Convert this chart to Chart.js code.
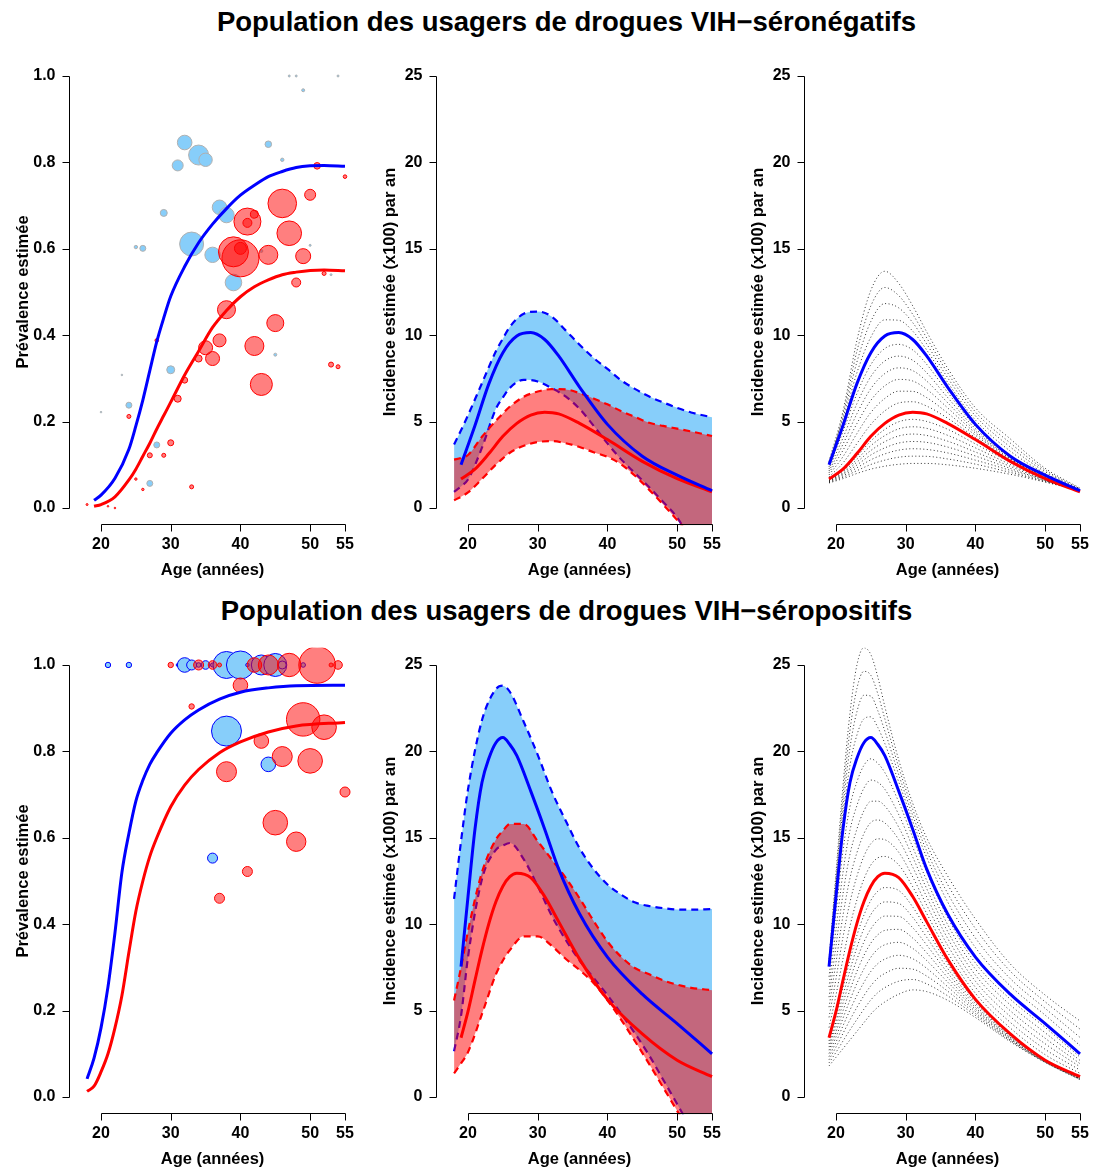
<!DOCTYPE html>
<html lang="fr">
<head>
<meta charset="utf-8">
<title>Population des usagers de drogues</title>
<script src="https://cdn.jsdelivr.net/npm/chart.js@4.4.1/dist/chart.umd.min.js"></script>
<style>
  html, body { margin: 0; padding: 0; background: #fff; }
  body { position: relative; width: 1094px; height: 1171px; overflow: hidden;
         font-family: "Liberation Sans", Arial, Helvetica, sans-serif; }
  .title { position: absolute; left: 0; width: 1133px; text-align: center; color: #000;
           font-weight: bold; font-size: 27.5px; line-height: 30px; white-space: nowrap; }
  .panel { position: absolute; width: 360px; height: 545px; }
</style>
</head>
<body>
<div class="title" style="top:7px">Population des usagers de drogues VIH−séronégatifs</div>
<div class="title" style="top:596px">Population des usagers de drogues VIH−séropositifs</div>

<canvas class="panel" id="negPrev" width="360" height="545" style="left:0;top:40px"></canvas>
<canvas class="panel" id="negInc" width="360" height="545" style="left:367px;top:40px"></canvas>
<canvas class="panel" id="negFan" width="360" height="545" style="left:735px;top:40px"></canvas>
<canvas class="panel" id="posPrev" width="360" height="545" style="left:0;top:629px"></canvas>
<canvas class="panel" id="posInc" width="360" height="545" style="left:367px;top:629px"></canvas>
<canvas class="panel" id="posFan" width="360" height="545" style="left:735px;top:629px"></canvas>

<script>
// ---- axes ----
const X_TICKS = [20, 30, 40, 50, 55];
const PREV_TICKS = [0, 0.2, 0.4, 0.6, 0.8, 1.0];
const INC_TICKS = [0, 5, 10, 15, 20, 25];

// ---- prevalence curves ----
const PREV_NEG_AGES = [19, 20, 22, 24, 25, 26, 27, 28, 29, 30, 32, 34, 36, 38, 40, 42, 44, 46, 48, 50, 52, 55];
const PREV_NEG_BLUE = [.018, .03, .069, .136, .19, .25, .318, .385, .44, .49, .559, .614, .657, .693, .724, .747, .767, .779, .788, .792, .793, .791];
const PREV_NEG_RED  = [.004, .008, .026, .065, .09, .12, .15, .183, .214, .245, .308, .363, .418, .457, .489, .512, .528, .54, .546, .55, .551, .549];

const PREV_POS_AGES = [18, 19, 20, 21, 22, 23, 24, 25, 26, 27, 28, 30, 32, 34, 37, 40, 44, 48, 55];
const PREV_POS_BLUE = [.042, .09, .16, .255, .38, .52, .61, .685, .733, .77, .797, .842, .873, .896, .921, .937, .947, .952, .953];
const PREV_POS_RED  = [.013, .025, .058, .1, .16, .235, .335, .43, .5, .557, .6, .672, .722, .758, .797, .822, .845, .859, .867];

// ---- observed prevalence bubbles (age, prevalence, bubble radius) ----
const NEG_BLUE_AGE  = [32, 34, 35, 31, 44, 46, 49, 47, 48, 54, 29, 37, 38, 33, 36, 39, 25, 26, 30, 28, 24, 27, 23, 20, 45, 50, 53, 43];
const NEG_BLUE_PREV = [.846, .817, .806, .793, .842, .806, .967, 1, 1, 1, .683, .696, .678, .611, .586, .522, .604, .601, .32, .146, .238, .057, .308, .222, .355, .608, .54, .595];
const NEG_BLUE_SIZE = [7.3, 10, 6.7, 5.5, 3.3, 1.7, 1.5, 1, 1, 1, 3.5, 7.3, 7.7, 12, 7.7, 8.3, 1.7, 3, 4, 3, 3, 3, .8, .8, 1.5, 1, 1, 1.5];

const NEG_RED_AGE  = [51, 55, 50, 46, 41, 41, 42, 47, 39, 40, 40, 44, 49, 48, 52, 38, 45, 37, 35, 34, 36, 42, 43, 32, 31, 30, 27, 29, 33, 28, 24, 25, 26, 18, 21, 22, 53, 54];
const NEG_RED_PREV = [.792, .767, .725, .705, .663, .66, .68, .636, .593, .578, .601, .586, .583, .522, .543, .459, .428, .388, .371, .346, .346, .375, .286, .296, .253, .151, .122, .122, .049, .388, .212, .067, .043, .008, .004, 0, .332, .327];
const NEG_RED_SIZE = [3.3, 1.8, 5.5, 14.3, 13.5, 4.5, 4, 12.3, 15, 18.5, 6, 9.5, 7.5, 4.5, 2, 9, 8.5, 6.5, 7, 3.5, 7, 9.5, 11, 3, 3.5, 3, 2.5, 2, 2, 1.8, 2, 1.2, 1.2, 1, .8, .8, 2.5, 2];

const POS_BLUE_AGE  = [21, 24, 31, 32, 33, 34, 35, 36, 38, 40, 41, 43, 45, 46, 49, 38, 44, 36];
const POS_BLUE_PREV = [1, 1, 1, 1, 1, 1, 1, 1, 1, 1, 1, 1, 1, 1, 1, .847, .77, .553];
const POS_BLUE_SIZE = [2.7, 2.7, 1.5, 7.3, 5, 2.3, 4.3, 2, 13.5, 14, 1.7, 10, 11.5, 4, 2.3, 15, 7.3, 5];

const POS_RED_AGE  = [30, 34, 36, 37, 42, 44, 47, 51, 53, 54, 40, 33, 49, 52, 43, 46, 50, 38, 55, 45, 48, 41, 37];
const POS_RED_PREV = [1, 1, 1, 1, 1, 1, 1, 1, 1, 1, .953, .904, .874, .856, .824, .788, .778, .753, .706, .635, .591, .522, .46];
const POS_RED_SIZE = [2.7, 5, 4.3, 2, 7.3, 10, 11.7, 18.3, 2, 4.3, 7.3, 2.7, 16.7, 12.3, 7.3, 10, 12.3, 10, 5, 12.3, 9.7, 5, 5];

// ---- incidence (x100 per year) ----
const INC_NEG_AGES = [19, 21, 23, 25, 27, 29, 31, 33, 36, 40, 45, 50, 55];
const INC_NEG_BLUE = [2.51, 4.78, 7.2, 8.99, 9.95, 10.15, 9.75, 8.8, 7.0, 4.84, 3.0, 1.9, 1.0];
const INC_NEG_RED  = [1.68, 2.25, 3.15, 4.15, 4.9, 5.38, 5.54, 5.45, 4.9, 3.96, 2.7, 1.7, 0.94];

const INC_POS_AGES = [19, 20, 21, 22, 23, 24, 25, 26, 27, 29, 31, 33, 36, 40, 45, 50, 55];
const INC_POS_BLUE = [7.55, 11.6, 15.5, 18.2, 19.6, 20.5, 20.8, 20.4, 19.75, 17.7, 15.5, 13.2, 10.6, 8.1, 5.95, 4.25, 2.5];
const INC_POS_RED  = [3.43, 4.95, 6.75, 8.5, 10.05, 11.3, 12.2, 12.75, 12.95, 12.7, 11.6, 10.15, 7.98, 5.65, 3.65, 2.13, 1.18];

// confidence bands
const BAND_AGES = [18, 19, 20, 22, 24, 25, 26, 28, 30, 32, 34, 36, 38, 40, 42, 44, 46, 48, 50, 52, 55];
const NEG_BLUE_UP = [3.68, 4.5, 5.37, 7.22, 9.07, 9.8, 10.48, 11.24, 11.37, 11.08, 10.28, 9.45, 8.69, 8.05, 7.38, 6.88, 6.45, 6.11, 5.8, 5.53, 5.25];
const NEG_BLUE_LO = [0.94, 1.25, 1.65, 3.49, 5.74, 6.4, 6.95, 7.42, 7.32, 6.94, 6.46, 5.74, 4.77, 3.74, 2.8, 2.0, 1.2, 0.35, -0.55, -1.9, -3.6];
const NEG_RED_UP  = [2.8, 2.9, 3.07, 4.12, 5.05, 5.47, 5.87, 6.44, 6.74, 6.88, 6.86, 6.65, 6.34, 6.0, 5.6, 5.26, 4.93, 4.75, 4.59, 4.43, 4.17];
const NEG_RED_LO  = [0.45, 0.65, 0.9, 1.68, 2.51, 2.87, 3.2, 3.6, 3.82, 3.87, 3.75, 3.53, 3.23, 2.96, 2.52, 1.85, 1.05, 0.2, -0.7, -1.65, -3.2];

const POS_BLUE_UP = [11.47, 14.8, 17.8, 21.8, 23.6, 23.8, 23.45, 21.7, 19.8, 17.7, 16.0, 14.4, 13.2, 12.3, 11.7, 11.25, 11.05, 10.93, 10.85, 10.84, 10.88];
const POS_BLUE_LO = [2.65, 4.7, 8.1, 12.6, 14.3, 14.55, 14.7, 13.75, 12.2, 10.5, 9.1, 7.9, 6.9, 5.9, 4.8, 3.65, 2.4, 1.0, -0.4, -1.8, -3.5];
const POS_RED_UP  = [5.59, 7.5, 9.6, 13.0, 14.9, 15.4, 15.8, 15.8, 14.8, 13.75, 12.7, 11.5, 10.2, 9.0, 8.1, 7.45, 7.1, 6.75, 6.5, 6.32, 6.18];
const POS_RED_LO  = [1.37, 1.95, 2.6, 4.8, 7.1, 7.9, 8.5, 9.3, 9.3, 8.75, 8.0, 7.35, 6.6, 5.6, 4.45, 3.2, 1.9, 0.55, -0.8, -2.2, -4.2];

// dotted sensitivity curves (read on INC_NEG_AGES / INC_POS_AGES)
const NEG_FAN = [
  [2.7, 5.6, 9.7, 12.6, 13.7, 13.0, 11.7, 10.2, 8.1, 5.8, 4.0, 2.3, 1.15],
  [2.65, 5.4, 9.08, 11.7, 12.76, 12.29, 11.21, 9.85, 7.83, 5.56, 3.76, 2.2, 1.11],
  [2.6, 5.19, 8.45, 10.8, 11.83, 11.58, 10.73, 9.5, 7.55, 5.33, 3.53, 2.1, 1.08],
  [2.56, 4.99, 7.83, 9.89, 10.89, 10.86, 10.24, 9.15, 7.28, 5.09, 3.29, 2.0, 1.04],
  [2.39, 4.42, 6.62, 8.3, 9.23, 9.47, 9.15, 8.32, 6.7, 4.72, 3.01, 1.87, 0.99],
  [2.27, 4.06, 6.04, 7.61, 8.51, 8.79, 8.55, 7.83, 6.4, 4.59, 2.96, 1.84, 0.98],
  [2.15, 3.69, 5.46, 6.91, 7.78, 8.11, 7.95, 7.35, 6.1, 4.46, 2.92, 1.81, 0.97],
  [2.04, 3.34, 4.89, 6.23, 7.07, 7.44, 7.35, 6.87, 5.8, 4.34, 2.88, 1.79, 0.97],
  [1.92, 2.97, 4.31, 5.53, 6.34, 6.76, 6.75, 6.39, 5.5, 4.21, 2.84, 1.76, 0.96],
  [1.8, 2.61, 3.73, 4.84, 5.62, 6.08, 6.15, 5.9, 5.2, 4.08, 2.79, 1.73, 0.95],
  [1.65, 2.17, 2.99, 3.88, 4.55, 4.99, 5.13, 5.01, 4.56, 3.71, 2.64, 1.67, 0.95],
  [1.61, 2.09, 2.82, 3.61, 4.19, 4.58, 4.7, 4.61, 4.21, 3.48, 2.52, 1.64, 0.96],
  [1.58, 2.01, 2.66, 3.33, 3.84, 4.17, 4.28, 4.2, 3.87, 3.24, 2.41, 1.61, 0.97],
  [1.55, 1.94, 2.49, 3.07, 3.48, 3.76, 3.85, 3.8, 3.53, 3.01, 2.29, 1.59, 0.97],
  [1.52, 1.86, 2.33, 2.79, 3.13, 3.35, 3.43, 3.39, 3.19, 2.77, 2.18, 1.56, 0.98],
  [1.48, 1.78, 2.16, 2.52, 2.77, 2.94, 3.0, 2.99, 2.84, 2.54, 2.06, 1.53, 0.99],
  [1.45, 1.7, 2.0, 2.25, 2.42, 2.53, 2.58, 2.58, 2.5, 2.3, 1.95, 1.5, 1.0],
];

const POS_FAN = [
  [8.0, 13.0, 18.0, 22.2, 25.0, 26.0, 25.6, 24.3, 22.6, 19.5, 17.0, 15.0, 12.8, 10.3, 7.7, 5.9, 4.4],
  [7.89, 12.65, 17.38, 21.2, 23.65, 24.63, 24.4, 23.33, 21.89, 19.08, 16.65, 14.63, 12.3, 9.75, 7.28, 5.51, 3.93],
  [7.78, 12.3, 16.75, 20.2, 22.3, 23.25, 23.2, 22.35, 21.18, 18.65, 16.3, 14.25, 11.8, 9.2, 6.85, 5.13, 3.45],
  [7.66, 11.95, 16.13, 19.2, 20.95, 21.88, 22.0, 21.38, 20.46, 18.23, 15.95, 13.88, 11.3, 8.65, 6.43, 4.74, 2.98],
  [6.96, 10.65, 14.25, 16.81, 18.24, 19.19, 19.57, 19.31, 18.78, 17.07, 15.03, 13.02, 10.4, 7.75, 5.66, 4.03, 2.31],
  [6.37, 9.7, 13.0, 15.43, 16.87, 17.87, 18.34, 18.21, 17.81, 16.34, 14.46, 12.54, 9.99, 7.4, 5.33, 3.72, 2.12],
  [5.78, 8.75, 11.75, 14.04, 15.51, 16.56, 17.11, 17.12, 16.84, 15.61, 13.89, 12.06, 9.59, 7.05, 4.99, 3.4, 1.93],
  [5.2, 7.8, 10.5, 12.66, 14.14, 15.24, 15.89, 16.03, 15.86, 14.89, 13.31, 11.59, 9.19, 6.7, 4.66, 3.08, 1.75],
  [4.61, 6.85, 9.25, 11.27, 12.78, 13.93, 14.66, 14.94, 14.89, 14.16, 12.74, 11.11, 8.79, 6.35, 4.32, 2.76, 1.56],
  [4.02, 5.9, 8.0, 9.89, 11.41, 12.61, 13.43, 13.84, 13.92, 13.43, 12.17, 10.63, 8.38, 6.0, 3.99, 2.45, 1.37],
  [3.25, 4.66, 6.31, 7.92, 9.36, 10.52, 11.38, 11.91, 12.12, 11.95, 11.0, 9.7, 7.72, 5.53, 3.6, 2.12, 1.16],
  [3.07, 4.36, 5.87, 7.34, 8.66, 9.74, 10.56, 11.07, 11.29, 11.2, 10.4, 9.25, 7.45, 5.42, 3.55, 2.1, 1.14],
  [2.89, 4.07, 5.43, 6.77, 7.97, 8.97, 9.73, 10.23, 10.47, 10.45, 9.8, 8.8, 7.19, 5.3, 3.5, 2.09, 1.12],
  [2.71, 3.77, 4.99, 6.19, 7.27, 8.19, 8.91, 9.39, 9.64, 9.7, 9.2, 8.35, 6.92, 5.18, 3.45, 2.07, 1.1],
  [2.52, 3.48, 4.56, 5.61, 6.58, 7.41, 8.09, 8.56, 8.81, 8.95, 8.6, 7.9, 6.66, 5.07, 3.4, 2.06, 1.08],
  [2.34, 3.18, 4.12, 5.03, 5.88, 6.63, 7.27, 7.72, 7.98, 8.2, 8.0, 7.45, 6.39, 4.95, 3.35, 2.04, 1.06],
  [2.16, 2.89, 3.68, 4.46, 5.19, 5.86, 6.44, 6.88, 7.15, 7.45, 7.4, 7.0, 6.13, 4.83, 3.3, 2.03, 1.04],
  [1.98, 2.59, 3.24, 3.88, 4.49, 5.08, 5.62, 6.04, 6.33, 6.7, 6.8, 6.55, 5.86, 4.72, 3.25, 2.01, 1.02],
  [1.8, 2.3, 2.8, 3.3, 3.8, 4.3, 4.8, 5.2, 5.5, 5.95, 6.2, 6.1, 5.6, 4.6, 3.2, 2.0, 1.0],
];

// ---- styling ----
const BLUE = '#0000ff';
const RED = '#ff0000';
const SKY = '#87cefa';
const RED_FILL = 'rgba(255, 0, 0, 0.5)';
const GREY_RING = '#b0b0b0';
const FONT_FAMILY = '"Liberation Sans", Arial, Helvetica, sans-serif';
const TICK_FONT = { family: FONT_FAMILY, size: 16, weight: 'bold' };
const TITLE_FONT = { family: FONT_FAMILY, size: 16.5, weight: 'bold' };

Chart.defaults.font.family = FONT_FAMILY;
Chart.defaults.color = '#000';

const pts = (xs, ys) => xs.map((x, i) => ({ x, y: ys[i] }));
const bubbles = (xs, ys, rs) => xs.map((x, i) => ({ x, y: ys[i], r: rs[i] }));

const curve = (xs, ys, color, order, width = 3) => ({
    type: 'line',
    data: pts(xs, ys),
    borderColor: color,
    borderWidth: width,
    pointRadius: 0,
    pointHoverRadius: 0,
    cubicInterpolationMode: 'monotone',
    fill: false,
    order,
});

const dashed = (xs, ys, color, order) => ({ ...curve(xs, ys, color, order, 2.2), borderDash: [7, 5] });

const bandEdge = (xs, ys, color, order, fill) => ({
    ...curve(xs, ys, 'rgba(0,0,0,0)', order, 0),
    backgroundColor: color,
    fill,
});

const dotted = (xs, ys) => ({ ...curve(xs, ys, 'rgba(0,0,0,0.8)', 5, 1), borderDash: [1, 2.5] });

const bubbleSet = (xs, ys, rs, fill, ring, order) => ({
    type: 'bubble',
    data: bubbles(xs, ys, rs),
    backgroundColor: fill,
    borderColor: ring,
    borderWidth: 1,
    hoverRadius: 0,
    order,
});

// R-like axes: detached lines that only span the tick range
const rAxes = {
    id: 'rAxes',
    afterDraw(chart, _args, opts) {
        const { ctx, chartArea: area, scales: { x, y } } = chart;
        const ax = Math.floor(area.left) + 0.5;
        const ay = Math.round(area.bottom) - 0.5;
        const xs = opts.xTicks.map(v => Math.round(x.getPixelForValue(v)) + 0.5);
        const ys = opts.yTicks.map(v => Math.round(y.getPixelForValue(v)) + 0.5);
        ctx.save();
        ctx.strokeStyle = '#000';
        ctx.lineWidth = 1;
        ctx.beginPath();
        ctx.moveTo(xs[0], ay);
        ctx.lineTo(xs[xs.length - 1], ay);
        xs.forEach(px => { ctx.moveTo(px, ay); ctx.lineTo(px, ay + 7); });
        ctx.moveTo(ax, ys[0]);
        ctx.lineTo(ax, ys[ys.length - 1]);
        ys.forEach(py => { ctx.moveTo(ax, py); ctx.lineTo(ax - 7, py); });
        ctx.stroke();
        ctx.restore();
    },
};

function makePanel(id, datasets, { min, max, ticks, format, title }) {
    return new Chart(document.getElementById(id), {
        type: 'line',
        data: { datasets },
        plugins: [rAxes],
        options: {
            responsive: false,
            animation: false,
            events: [],
            layout: { autoPadding: false, padding: { top: 18.7, right: 4.4, bottom: 0, left: 0 } },
            plugins: {
                legend: { display: false },
                tooltip: { enabled: false },
                rAxes: { xTicks: X_TICKS, yTicks: ticks },
            },
            scales: {
                x: {
                    type: 'linear',
                    min: 15.48,
                    max: 56.52,
                    grid: { display: false, drawTicks: false },
                    border: { display: false },
                    afterBuildTicks: s => { s.ticks = X_TICKS.map(value => ({ value })); },
                    afterFit: s => { s.height = 59.7; s.paddingLeft = 0; s.paddingRight = 0; },
                    ticks: { font: TICK_FONT, color: '#000', padding: 10, autoSkip: false, maxRotation: 0,
                             callback: v => String(v) },
                    title: { display: true, text: 'Age (années)', font: TITLE_FONT, color: '#000',
                             padding: { top: 0, bottom: 5 } },
                },
                y: {
                    type: 'linear',
                    min,
                    max,
                    grid: { display: false, drawTicks: false },
                    border: { display: false },
                    afterBuildTicks: s => { s.ticks = ticks.map(value => ({ value })); },
                    afterFit: s => { s.width = 69.5; s.paddingTop = 0; s.paddingBottom = 0; },
                    ticks: { font: TICK_FONT, color: '#000', padding: 14, autoSkip: false, callback: format },
                    title: { display: true, text: title, font: TITLE_FONT, color: '#000',
                             padding: { top: 14, bottom: 0 } },
                },
            },
        },
    });
}

const PREV_AXIS = { min: -0.04, max: 1.04, ticks: PREV_TICKS, format: v => v.toFixed(1), title: 'Prévalence estimée' };
const INC_AXIS = { min: -1, max: 26, ticks: INC_TICKS, format: v => String(v), title: 'Incidence estimée (x100) par an' };

function prevalenceSets(ages, blue, red, blueDots, redDots, ring) {
    return [
        curve(ages, blue, BLUE, 0),
        curve(ages, red, RED, 0),
        bubbleSet(...redDots, RED_FILL, RED, 1),
        bubbleSet(...blueDots, SKY, ring, 2),
    ];
}

function incidenceSets(ages, blue, red, band) {
    return [
        curve(ages, blue, BLUE, 0),
        curve(ages, red, RED, 0),
        dashed(BAND_AGES, band.redUp, RED, 1),
        dashed(BAND_AGES, band.redLo, RED, 1),
        bandEdge(BAND_AGES, band.redUp, RED_FILL, 2, '+1'),
        bandEdge(BAND_AGES, band.redLo, RED_FILL, 2, false),
        dashed(BAND_AGES, band.blueUp, BLUE, 3),
        dashed(BAND_AGES, band.blueLo, BLUE, 3),
        bandEdge(BAND_AGES, band.blueUp, SKY, 4, '+1'),
        bandEdge(BAND_AGES, band.blueLo, SKY, 4, false),
    ];
}

function fanSets(ages, blue, red, fan) {
    return [
        curve(ages, blue, BLUE, 0),
        curve(ages, red, RED, 0),
        ...fan.map(vals => dotted(ages, vals)),
    ];
}

function init() {
    makePanel('negPrev', prevalenceSets(PREV_NEG_AGES, PREV_NEG_BLUE, PREV_NEG_RED,
        [NEG_BLUE_AGE, NEG_BLUE_PREV, NEG_BLUE_SIZE], [NEG_RED_AGE, NEG_RED_PREV, NEG_RED_SIZE], GREY_RING), PREV_AXIS);

    makePanel('negInc', incidenceSets(INC_NEG_AGES, INC_NEG_BLUE, INC_NEG_RED,
        { blueUp: NEG_BLUE_UP, blueLo: NEG_BLUE_LO, redUp: NEG_RED_UP, redLo: NEG_RED_LO }), INC_AXIS);

    makePanel('negFan', fanSets(INC_NEG_AGES, INC_NEG_BLUE, INC_NEG_RED, NEG_FAN), INC_AXIS);

    makePanel('posPrev', prevalenceSets(PREV_POS_AGES, PREV_POS_BLUE, PREV_POS_RED,
        [POS_BLUE_AGE, POS_BLUE_PREV, POS_BLUE_SIZE], [POS_RED_AGE, POS_RED_PREV, POS_RED_SIZE], BLUE), PREV_AXIS);

    makePanel('posInc', incidenceSets(INC_POS_AGES, INC_POS_BLUE, INC_POS_RED,
        { blueUp: POS_BLUE_UP, blueLo: POS_BLUE_LO, redUp: POS_RED_UP, redLo: POS_RED_LO }), INC_AXIS);

    makePanel('posFan', fanSets(INC_POS_AGES, INC_POS_BLUE, INC_POS_RED, POS_FAN), INC_AXIS);
}

document.addEventListener('DOMContentLoaded', init);
</script>
</body>
</html>
